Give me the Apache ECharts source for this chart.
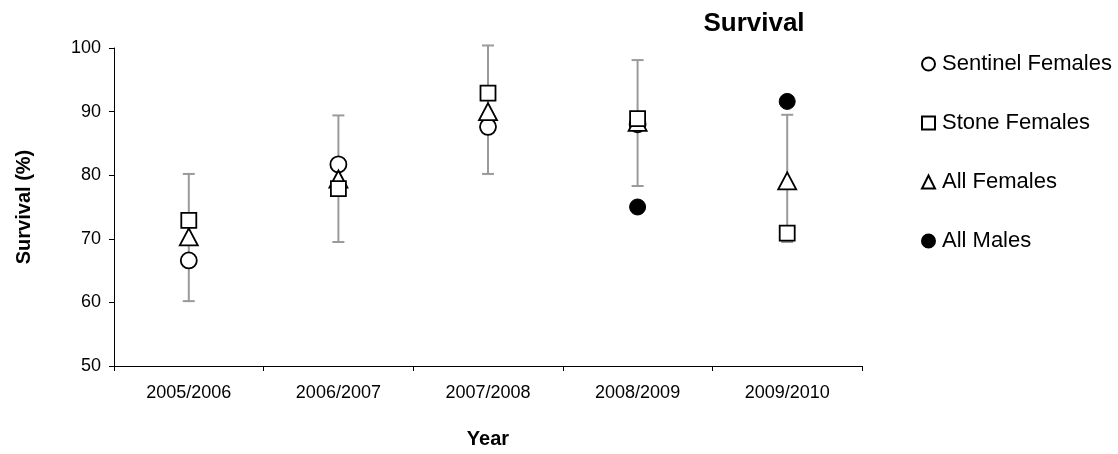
<!DOCTYPE html>
<html>
<head>
<meta charset="utf-8">
<script src="https://cdn.jsdelivr.net/npm/echarts@6/dist/echarts.min.js"></script>
<style>
  html, body { margin: 0; padding: 0; background: #fff; }
  #chart { width: 1118px; height: 454px; }
</style>
</head>
<body>
<div id="chart"></div>
<script>
// Annual survival estimates (%) by group
const years = ['2005/2006', '2006/2007', '2007/2008', '2008/2009', '2009/2010'];
const sentinelFemales = [66.6, 81.7, 87.6, 88.0, null];
const stoneFemales = [72.9, 77.9, 92.9, 88.9, 70.9];
const allFemales = [70.3, 79.4, 90.0, 88.3, 79.1];
const allMales = [null, null, null, 75.0, 91.6];
// Confidence limits drawn as error bars for All Females
const errLow = [60.2, 69.5, 80.2, 78.3, 69.5];
const errHigh = [80.2, 89.4, 100.4, 98.1, 89.5];
const yTicks = [50, 60, 70, 80, 90, 100];

const FONT = '"Liberation Sans", Arial, Helvetica, sans-serif';
const chart = echarts.init(document.getElementById('chart'), null, { renderer: 'canvas' });

const hollow = { color: '#ffffff', borderColor: '#000000', borderWidth: 1.8, opacity: 1 };

const errData = years.map((y, i) => [i, errLow[i], errHigh[i]]);

chart.setOption({
  animation: false,
  backgroundColor: '#ffffff',
  textStyle: { fontFamily: FONT, color: '#000' },
  title: {
    text: 'Survival',
    left: 749,
    top: 6,
    textAlign: 'center',
    textStyle: { fontFamily: FONT, fontSize: 26, fontWeight: 'bold', color: '#000' }
  },
  legend: {
    orient: 'vertical',
    left: 916,
    top: 48,
    itemGap: 37,
    itemWidth: 13,
    itemHeight: 13,
    textStyle: { fontFamily: FONT, fontSize: 22, color: '#000', padding: [0, 0, 0, 2] },
    data: [
      { name: 'Sentinel Females', icon: 'circle' },
      { name: 'Stone Females', icon: 'rect' },
      { name: 'All Females', icon: 'triangle' },
      { name: 'All Males', icon: 'circle' }
    ]
  },
  grid: { left: 114, right: 256, top: 48, bottom: 86 },
  xAxis: {
    type: 'category',
    data: years,
    boundaryGap: true,
    name: 'Year',
    nameLocation: 'middle',
    nameGap: 63,
    nameTextStyle: { fontFamily: FONT, fontSize: 20, fontWeight: 'bold', color: '#000' },
    axisLine: { lineStyle: { color: '#000', width: 1 } },
    axisTick: { show: true, length: 5, lineStyle: { color: '#000' } },
    axisLabel: { fontFamily: FONT, fontSize: 18, color: '#000', margin: 18 },
    splitLine: { show: false }
  },
  yAxis: {
    type: 'value',
    min: yTicks[0],
    max: yTicks[yTicks.length - 1],
    interval: 10,
    name: 'Survival (%)',
    nameLocation: 'middle',
    nameGap: 80,
    nameTextStyle: { fontFamily: FONT, fontSize: 20, fontWeight: 'bold', color: '#000' },
    axisLine: { show: true, lineStyle: { color: '#000', width: 1 } },
    axisTick: { show: true, length: 5, lineStyle: { color: '#000' } },
    axisLabel: { fontFamily: FONT, fontSize: 18, color: '#000', margin: 13 },
    splitLine: { show: false }
  },
  series: [
    {
      name: 'errorbars',
      type: 'custom',
      z: 1,
      silent: true,
      data: errData,
      renderItem: function (params, api) {
        const x = api.value(0);
        const lo = api.coord([x, api.value(1)]);
        const hi = api.coord([x, api.value(2)]);
        const half = 6;
        const style = { stroke: '#9a9a9a', lineWidth: 2 };
        return {
          type: 'group',
          children: [
            { type: 'line', shape: { x1: lo[0], y1: lo[1], x2: hi[0], y2: hi[1] }, style: style },
            { type: 'line', shape: { x1: lo[0] - half, y1: lo[1], x2: lo[0] + half, y2: lo[1] }, style: style },
            { type: 'line', shape: { x1: hi[0] - half, y1: hi[1], x2: hi[0] + half, y2: hi[1] }, style: style }
          ]
        };
      }
    },
    {
      name: 'Sentinel Females',
      type: 'scatter',
      symbol: 'circle',
      symbolSize: 16,
      z: 3,
      itemStyle: hollow,
      data: sentinelFemales
    },
    {
      name: 'All Females',
      type: 'scatter',
      symbol: 'triangle',
      symbolSize: [18, 17],
      z: 4,
      itemStyle: hollow,
      data: allFemales
    },
    {
      name: 'Stone Females',
      type: 'scatter',
      symbol: 'rect',
      symbolSize: 15,
      z: 5,
      itemStyle: hollow,
      data: stoneFemales
    },
    {
      name: 'All Males',
      type: 'scatter',
      symbol: 'circle',
      symbolSize: 16,
      z: 6,
      itemStyle: { color: '#000', borderColor: '#000', borderWidth: 1, opacity: 1 },
      data: allMales
    }
  ]
});
</script>
</body>
</html>
